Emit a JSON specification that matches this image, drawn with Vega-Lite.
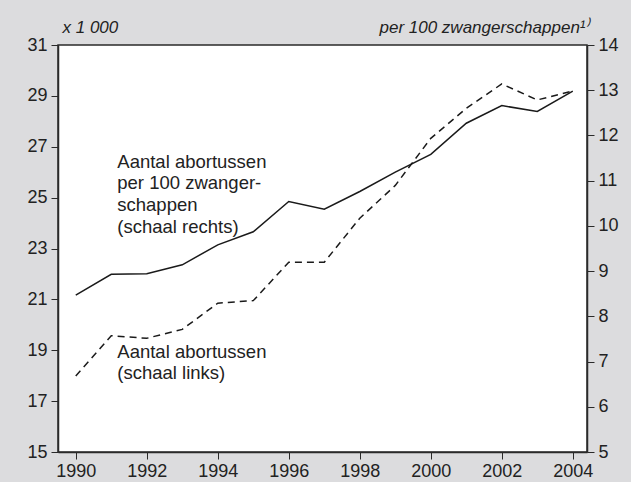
{
  "$schema": "https://vega.github.io/schema/vega-lite/v6.json",
  "width": 529,
  "height": 407,
  "autosize": "none",
  "padding": {"left": 58, "top": 45, "right": 44, "bottom": 30},
  "background": "#dcdcde",
  "config": {
    "font": "Liberation Sans",
    "view": {"fill": "white", "stroke": "#2a2a2a", "strokeWidth": 1.5},
    "axis": {
      "grid": false,
      "domainColor": "#2a2a2a",
      "domainWidth": 1.5,
      "tickColor": "#2a2a2a",
      "tickWidth": 1,
      "labelFont": "Liberation Sans",
      "labelFontSize": 18,
      "labelColor": "#222222",
      "titleFont": "Liberation Sans",
      "titleFontSize": 17,
      "titleFontStyle": "italic",
      "titleFontWeight": "normal",
      "titleColor": "#222222"
    }
  },
  "datasets": {
    "series": [
      {"year": 1990, "abortussen": 17.99, "per100": 8.47},
      {"year": 1991, "abortussen": 19.57, "per100": 8.93},
      {"year": 1992, "abortussen": 19.47, "per100": 8.94},
      {"year": 1993, "abortussen": 19.82, "per100": 9.14},
      {"year": 1994, "abortussen": 20.85, "per100": 9.58},
      {"year": 1995, "abortussen": 20.95, "per100": 9.87},
      {"year": 1996, "abortussen": 22.46, "per100": 10.54},
      {"year": 1997, "abortussen": 22.46, "per100": 10.37},
      {"year": 1998, "abortussen": 24.19, "per100": 10.76},
      {"year": 1999, "abortussen": 25.48, "per100": 11.19},
      {"year": 2000, "abortussen": 27.33, "per100": 11.58},
      {"year": 2001, "abortussen": 28.51, "per100": 12.27},
      {"year": 2002, "abortussen": 29.47, "per100": 12.66},
      {"year": 2003, "abortussen": 28.84, "per100": 12.53},
      {"year": 2004, "abortussen": 29.19, "per100": 12.98}
    ],
    "labels": [
      {"year": 1991.17, "value": 26.41, "text": "Aantal abortussen"},
      {"year": 1991.17, "value": 25.56, "text": "per 100 zwanger-"},
      {"year": 1991.17, "value": 24.71, "text": "schappen"},
      {"year": 1991.17, "value": 23.85, "text": "(schaal rechts)"},
      {"year": 1991.17, "value": 18.94, "text": "Aantal abortussen"},
      {"year": 1991.17, "value": 18.09, "text": "(schaal links)"}
    ]
  },
  "layer": [
    {
      "data": {"name": "series"},
      "mark": {"type": "line", "color": "#1a1a1a", "strokeWidth": 1.5, "strokeDash": [7, 5]},
      "encoding": {
        "x": {
          "field": "year", "type": "quantitative",
          "scale": {"domain": [1989.5, 2004.4], "nice": false, "zero": false},
          "axis": {
            "title": null,
            "values": [1990, 1991, 1992, 1993, 1994, 1995, 1996, 1997, 1998, 1999, 2000, 2001, 2002, 2003, 2004],
            "labelExpr": "datum.value % 2 == 0 ? format(datum.value, 'd') : ''",
            "tickSize": 7,
            "labelPadding": 3
          }
        },
        "y": {
          "field": "abortussen", "type": "quantitative",
          "scale": {"domain": [15, 31], "nice": false, "zero": false},
          "axis": {
            "title": "x 1 000",
            "titleAngle": 0,
            "titleAlign": "left",
            "titleBaseline": "bottom",
            "titleX": 4,
            "titleY": -9,
            "values": [15, 17, 19, 21, 23, 25, 27, 29, 31],
            "tickSize": 7,
            "labelPadding": 4
          }
        }
      }
    },
    {
      "data": {"name": "labels"},
      "mark": {"type": "text", "align": "left", "baseline": "middle", "fontSize": 18.5, "font": "Liberation Sans", "color": "#222222"},
      "encoding": {
        "x": {"field": "year", "type": "quantitative", "scale": {"domain": [1989.5, 2004.4], "nice": false, "zero": false}},
        "y": {"field": "value", "type": "quantitative", "scale": {"domain": [15, 31], "nice": false, "zero": false}, "axis": null},
        "text": {"field": "text"}
      }
    },
    {
      "data": {"name": "series"},
      "mark": {"type": "line", "color": "#1a1a1a", "strokeWidth": 1.5},
      "encoding": {
        "x": {"field": "year", "type": "quantitative", "scale": {"domain": [1989.5, 2004.4], "nice": false, "zero": false}},
        "y": {
          "field": "per100", "type": "quantitative",
          "scale": {"domain": [5, 14], "nice": false, "zero": false},
          "axis": {
            "orient": "right",
            "title": "per 100 zwangerschappen¹⁾",
            "titleAngle": 0,
            "titleAlign": "right",
            "titleBaseline": "bottom",
            "titleX": 2,
            "titleY": -9,
            "values": [5, 6, 7, 8, 9, 10, 11, 12, 13, 14],
            "tickSize": 7,
            "labelPadding": 4
          }
        }
      }
    }
  ],
  "resolve": {"scale": {"y": "independent"}}
}
